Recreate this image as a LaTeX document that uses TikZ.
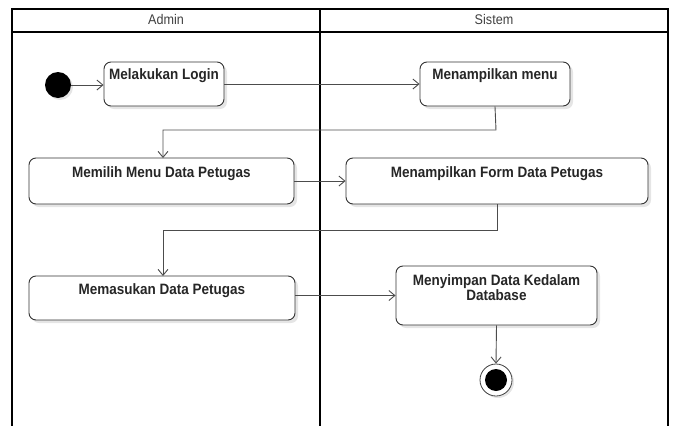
\documentclass[tikz,border=0pt]{standalone}
\usepackage{fontspec}
\setmainfont{Liberation Sans}[FakeStretch=0.9]
\usetikzlibrary{arrows.meta,shadows}
\begin{document}
\begin{tikzpicture}[x=1pt,y=-1pt,
  lane/.style={draw=black,line width=1.4pt},
  actbox/.style={draw=black!80,line width=0.9pt,rounded corners=7pt,fill=white,
    drop shadow={shadow xshift=3pt,shadow yshift=-3pt,fill=black!10,opacity=1}},
  acttext/.style={anchor=north,font=\bfseries\fontsize{15}{13.5}\selectfont,align=center,inner sep=0pt,text=black!85},
  hdr/.style={font=\fontsize{14}{14}\selectfont,text=black!75},
  flow/.style={draw=black!70,line width=0.9pt,-{Straight Barb[length=6pt,width=10pt]}},
  startdot/.style={circle,fill=black,minimum size=26pt,inner sep=0pt,
    drop shadow={shadow xshift=2pt,shadow yshift=-2pt,fill=black!10,opacity=1}},
  enddot/.style={circle,draw=black!75,line width=0.8pt,fill=white,minimum size=32pt,inner sep=0pt,
    drop shadow={shadow xshift=2pt,shadow yshift=-2pt,fill=black!10,opacity=1}},
]
\useasboundingbox (0,0) rectangle (673,426);
% lanes
\draw[lane] (12,426) -- (12,9) -- (668,9) -- (668,426);
\draw[lane] (12,32) -- (668,32);
\draw[lane] (320,9) -- (320,426);
\node[hdr] (hA) at (166,19) {Admin};
\node[hdr] (hS) at (494,19) {Sistem};

% start
\node[startdot] (start) at (58,85) {};

% boxes
\node[actbox,minimum width=120pt,minimum height=44pt] (login) at (164,84) {};
\node[acttext] (tlogin) at ([yshift=-7pt]login.north) {Melakukan Login};

\node[actbox,minimum width=150pt,minimum height=44pt] (menu) at (495,84) {};
\node[acttext] (tmenu) at ([yshift=-7pt]menu.north) {Menampilkan menu};

\node[actbox,minimum width=265pt,minimum height=46pt] (pilih) at (161.5,181) {};
\node[acttext] (tpilih) at ([yshift=-9pt]pilih.north) {Memilih Menu Data Petugas};

\node[actbox,minimum width=302pt,minimum height=46pt] (form) at (497,181) {};
\node[acttext] (tform) at ([yshift=-9pt]form.north) {Menampilkan Form Data Petugas};

\node[actbox,minimum width=266pt,minimum height=44pt] (masuk) at (162,298) {};
\node[acttext] (tmasuk) at ([yshift=-8pt]masuk.north) {Memasukan Data Petugas};

\node[actbox,minimum width=201pt,minimum height=59pt] (simpan) at (496.5,295.5) {};
\node[acttext] (tsimpan) at ([yshift=-9pt]simpan.north) {Menyimpan Data Kedalam\\Database};

% end
\node[enddot] (end) at (496,380) {};
\node[circle,fill=black,minimum size=22pt,inner sep=0pt] (endin) at (end.center) {};

% flows
\draw[flow] (start) -- (login.west |- start);
\draw[flow] (login.east) -- (menu.west);
\draw[flow] (menu.south) -- (496,130) -- (163,130) -- (163,158);
\draw[flow] (pilih.east) -- (form.west);
\draw[flow] (form.south) -- (497,230) -- (163,230) -- (163,276);
\draw[flow] (masuk.east |- simpan.west) -- (simpan.west);
\draw[flow] (simpan.south) -- (end.north);
\end{tikzpicture}
\end{document}
